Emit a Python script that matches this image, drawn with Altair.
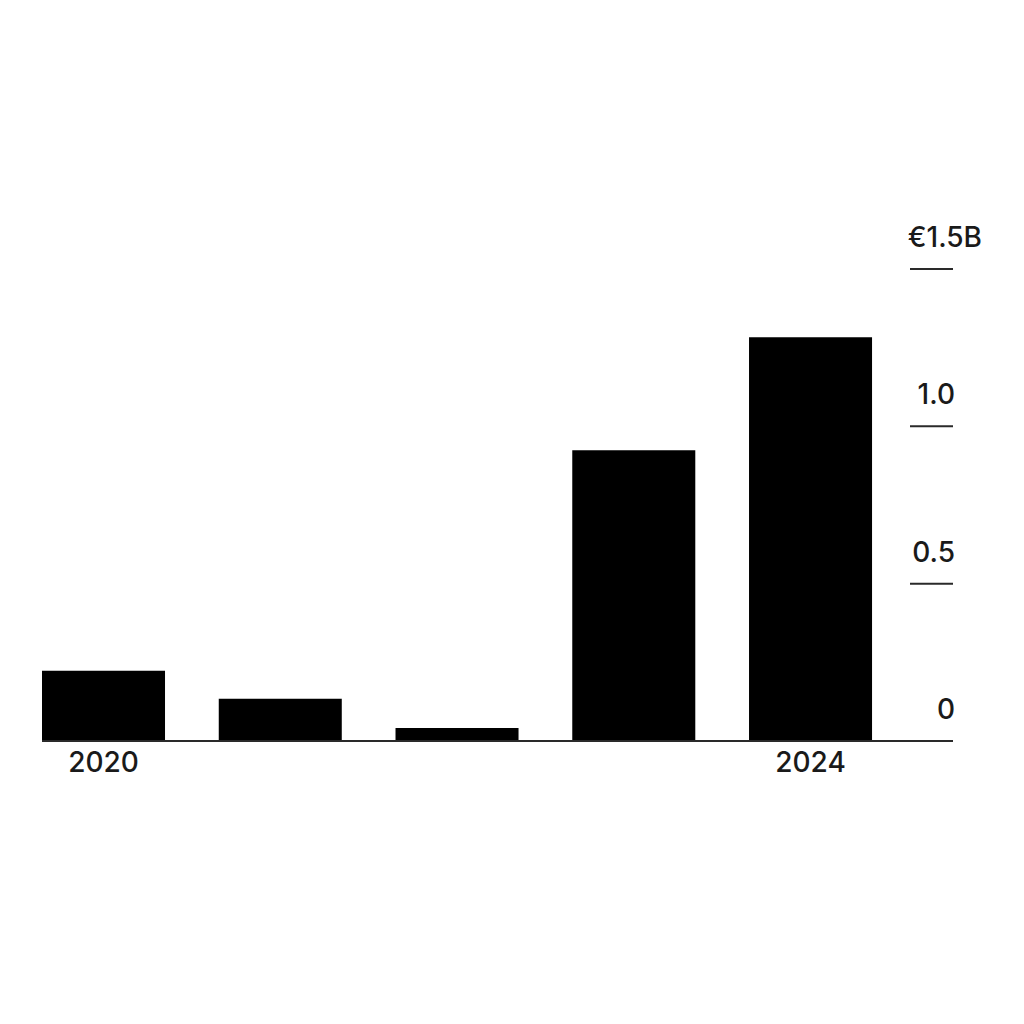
import altair as alt
import pandas as pd

years = [2020, 2021, 2022, 2023, 2024]
values = [0.223, 0.134, 0.041, 0.924, 1.283]  # € billions

tick_values = [0.5, 1.0, 1.5]
label_values = [0.0, 0.5, 1.0]
label_texts = ["0", "0.5", "1.0"]
top_label_value = [1.5]
top_label_text = ["€1.5B"]
x_label_years = [2020, 2024]
x_label_texts = ["2020", "2024"]

FONT = "Inter"
TXT = "#1a1a1a"

bars_df = pd.DataFrame({"year": years, "value": values})
bars_df["x0"] = bars_df["year"] - 0.348
bars_df["x1"] = bars_df["year"] + 0.348
bars_df["zero"] = 0.0

xs = alt.Scale(domain=[2019.652, 2024.806], nice=False, zero=False)
ys = alt.Scale(domain=[0, 1.5], nice=False)

bars = alt.Chart(bars_df).mark_rect(color="#000000").encode(
    x=alt.X("x0:Q", scale=xs, axis=None),
    x2="x1:Q",
    y=alt.Y("value:Q", scale=ys, axis=None),
    y2="zero:Q",
)

base_df = pd.DataFrame({"v": [0.0]})
baseline = alt.Chart(base_df).mark_rule(color="#2a2a2a", strokeWidth=2).encode(
    y=alt.Y("v:Q", scale=ys, axis=None),
    x=alt.value(0),
    x2=alt.value(911),
)

ticks_df = pd.DataFrame({"v": tick_values})
ticks = alt.Chart(ticks_df).mark_rule(color="#2a2a2a", strokeWidth=2).encode(
    y=alt.Y("v:Q", scale=ys, axis=None),
    x=alt.value(868),
    x2=alt.value(911),
)

labels_df = pd.DataFrame({"v": label_values, "t": label_texts})
labels = alt.Chart(labels_df).mark_text(
    font=FONT, fontSize=28, fontWeight=500, color=TXT, align="right", baseline="middle", dy=-30
).encode(
    y=alt.Y("v:Q", scale=ys, axis=None),
    x=alt.value(913),
    text="t:N",
)

top_df = pd.DataFrame({"v": top_label_value, "t": top_label_text})
top_label = alt.Chart(top_df).mark_text(
    font=FONT, fontSize=28, fontWeight=500, color=TXT, align="right", baseline="middle", dy=-30
).encode(
    y=alt.Y("v:Q", scale=ys, axis=None),
    x=alt.value(940),
    text="t:N",
)

xl_df = pd.DataFrame({"year": x_label_years, "t": x_label_texts})
xlabels = alt.Chart(xl_df).mark_text(
    font=FONT, fontSize=28, fontWeight=500, color=TXT, align="center", baseline="middle"
).encode(
    x=alt.X("year:Q", scale=xs, axis=None),
    y=alt.value(495),
    text="t:N",
)

chart = alt.layer(bars, baseline, ticks, labels, top_label, xlabels).properties(
    width=911,
    height=472,
    autosize=alt.AutoSizeParams(type="none"),
    padding={"left": 34, "top": 261, "right": 60, "bottom": 100},
    background="#ffffff",
).configure_view(stroke=None)

chart.save("out.html", embed_options={"renderer": "svg", "actions": False})
